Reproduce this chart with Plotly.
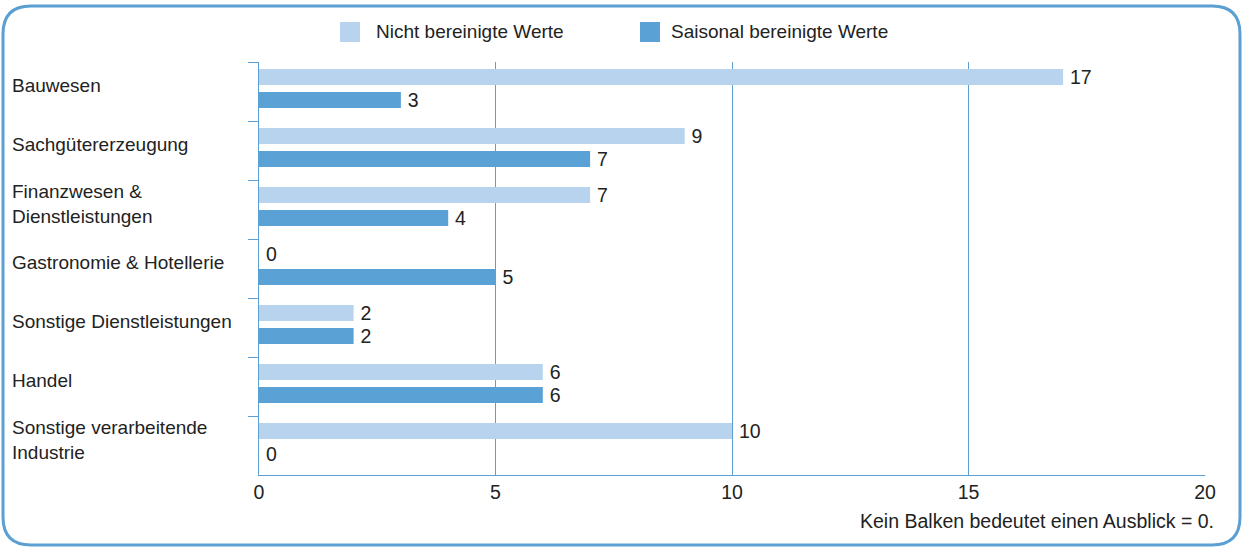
import plotly.graph_objects as go

categories = ["Bauwesen", "Sachgütererzeugung", "Finanzwesen &<br>Dienstleistungen",
              "Gastronomie & Hotellerie", "Sonstige Dienstleistungen", "Handel",
              "Sonstige verarbeitende<br>Industrie"]
nicht_bereinigt = [17, 9, 7, 0, 2, 6, 10]
saisonal_bereinigt = [3, 7, 4, 5, 2, 6, 0]
series_names = ["Nicht bereinigte Werte", "Saisonal bereinigte Werte"]
x_ticks = [0, 5, 10, 15, 20]
footnote = "Kein Balken bedeutet einen Ausblick = 0."

W, H = 1244, 549
ML, MT = 259, 62
MR = W - 1205
MB = H - 475
PW, PH = W - ML - MR, H - MT - MB

LIGHT = "#b7d3ee"
DARK = "#5aa2d6"
LINE = "#5b9fd3"
TXT = "#222222"
FONT = "Liberation Sans, Arial, sans-serif"
FS = 19.5
FL = 19


def px(X):
    return (X - ML) / PW


def py(Y):
    return (H - MB - Y) / PH


cat_ids = list(range(len(categories)))

fig = go.Figure()
for name, vals, col, off in [(series_names[0], nicht_bereinigt, LIGHT, -0.381),
                             (series_names[1], saisonal_bereinigt, DARK, 0.009)]:
    fig.add_trace(go.Bar(
        y=cat_ids, x=vals, orientation="h", name=name,
        marker=dict(color=col, line=dict(width=0)),
        width=0.271, offset=off,
        text=["\u2009" + str(v) for v in vals], textposition="outside",
        constraintext="none",
        textfont=dict(size=FS, color=TXT, family=FONT),
        cliponaxis=False, showlegend=False, hoverinfo="skip",
    ))

legend_pos = [(340, LIGHT, 374), (640, DARK, 669)]
shapes = []
annotations = []
for (sx, col, tx), name in zip(legend_pos, series_names):
    shapes.append(dict(type="rect", xref="paper", yref="paper",
                       x0=px(sx), x1=px(sx + 20), y0=py(42), y1=py(22),
                       fillcolor=col, line=dict(width=0)))
    annotations.append(dict(text=name, xref="paper", yref="paper",
                            x=px(tx), y=py(32), xanchor="left", yanchor="middle",
                            showarrow=False, font=dict(size=FL, color=TXT, family=FONT)))

for i, c in enumerate(categories):
    annotations.append(dict(text=c, xref="paper", yref="y", x=px(10), y=i,
                            xanchor="left", yanchor="middle", align="left",
                            yshift=6, showarrow=False,
                            font=dict(size=FL, color=TXT, family=FONT)))

annotations.append(dict(text=footnote, xref="paper", yref="paper",
                        x=px(1216), y=py(521), xanchor="right", yanchor="middle",
                        showarrow=False, font=dict(size=FS, color=TXT, family=FONT)))

x0, x1, y0, y1, r = 3, 1240, 6, 545, 28
path = (f"M {px(x0 + r)} {py(y0)} L {px(x1 - r)} {py(y0)} "
        f"Q {px(x1)} {py(y0)} {px(x1)} {py(y0 + r)} "
        f"L {px(x1)} {py(y1 - r)} Q {px(x1)} {py(y1)} {px(x1 - r)} {py(y1)} "
        f"L {px(x0 + r)} {py(y1)} Q {px(x0)} {py(y1)} {px(x0)} {py(y1 - r)} "
        f"L {px(x0)} {py(y0 + r)} Q {px(x0)} {py(y0)} {px(x0 + r)} {py(y0)} Z")
shapes.append(dict(type="path", xref="paper", yref="paper", path=path,
                   line=dict(color=LINE, width=3)))

boundaries = [i - 0.5 for i in cat_ids]

fig.update_layout(
    width=W, height=H,
    margin=dict(l=ML, r=MR, t=MT, b=MB),
    paper_bgcolor="white", plot_bgcolor="white",
    barmode="overlay",
    showlegend=False,
    shapes=shapes, annotations=annotations,
    font=dict(family=FONT, color=TXT, size=FS),
    xaxis=dict(range=[0, 20], tickvals=x_ticks, ticktext=[str(t) for t in x_ticks],
               showgrid=True, gridcolor=LINE, gridwidth=1,
               showline=True, linecolor=LINE, linewidth=1,
               ticks="", zeroline=False,
               tickfont=dict(size=FS, color=TXT, family=FONT)),
    yaxis=dict(range=[len(categories) - 0.5, -0.5], tickvals=boundaries,
               showticklabels=False, showgrid=False, zeroline=False,
               showline=True, linecolor=LINE, linewidth=1,
               ticks="outside", ticklen=10, tickcolor=LINE),
)

fig.write_html("out.html", config={"displayModeBar": False},
               post_script="document.body.style.margin='0';")
